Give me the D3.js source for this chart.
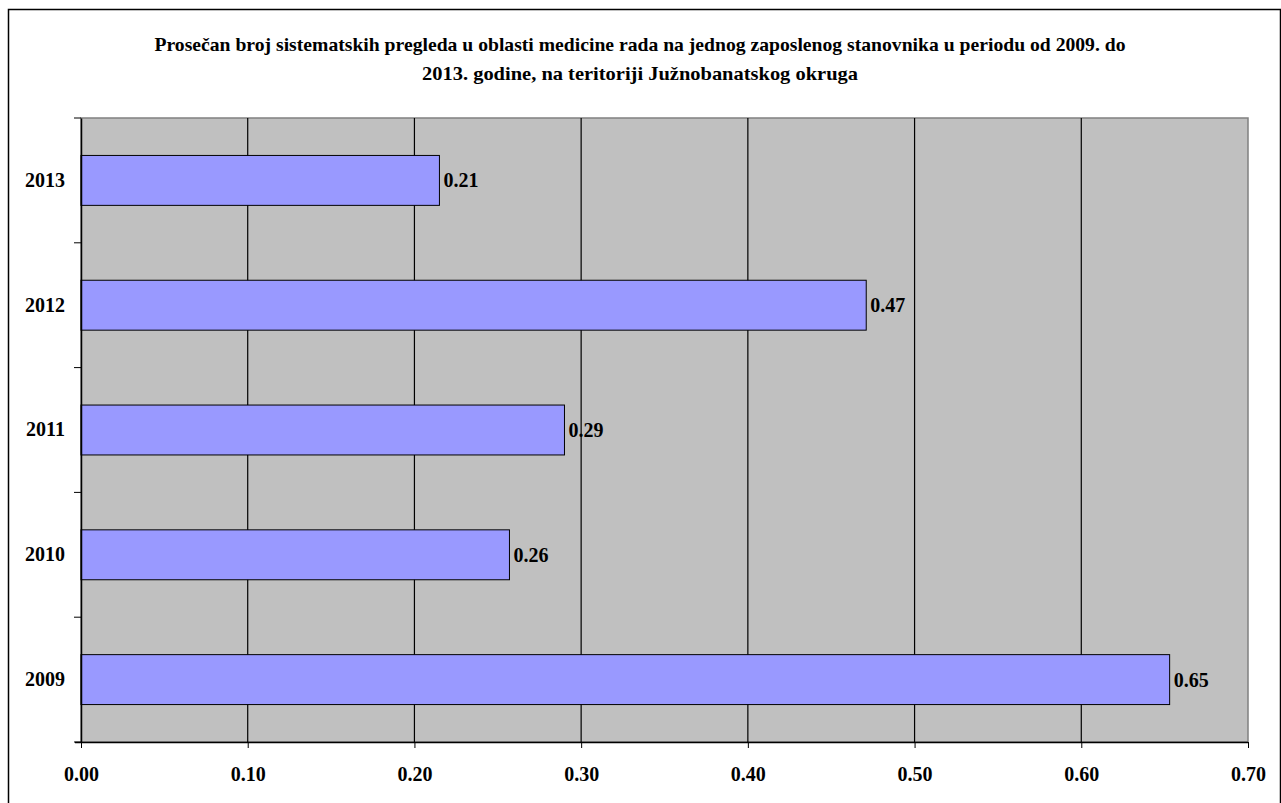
<!DOCTYPE html>
<html><head><meta charset="utf-8">
<script src="https://cdn.jsdelivr.net/npm/d3@7"></script>
<style>body{margin:0;background:#fff}</style>
</head><body>
<script>
const years = ["2009","2010","2011","2012","2013"];
const values = [0.653, 0.257, 0.290, 0.471, 0.215];
const xTicks = [0,0.1,0.2,0.3,0.4,0.5,0.6,0.7];
const titleLines = ["Prosečan broj sistematskih pregleda u oblasti medicine rada na jednog zaposlenog stanovnika u periodu od 2009. do","2013. godine, na teritoriji Južnobanatskog okruga"];

const W=1281,H=803;
const svg=d3.select("body").append("svg").attr("width",W).attr("height",H);
const font="'Liberation Serif','Times New Roman',serif";
svg.append("rect").attr("x",8.5).attr("y",9.5).attr("width",1272).attr("height",800).attr("fill","#fff").attr("stroke","#000").attr("stroke-width",1.5);

const L=81,R=1248,T=118,B=742;
const x=d3.scaleLinear().domain([0,0.7]).range([L,R]);
const y=d3.scaleBand().domain(years.slice().reverse()).range([T,B]).paddingInner(0.6).paddingOuter(0.3);
const yb=d3.scaleBand().domain(years.slice().reverse()).range([T,B]);

svg.append("rect").attr("x",L).attr("y",T).attr("width",R-L).attr("height",B-T).attr("fill","#c0c0c0").attr("stroke","#808080").attr("stroke-width",1.5);
svg.append("g").selectAll("line").data(xTicks.slice(1,-1)).join("line")
 .attr("x1",d=>x(d)).attr("x2",d=>x(d)).attr("y1",T).attr("y2",B).attr("stroke","#000").attr("stroke-width",1.2);

svg.append("g").selectAll("rect").data(years).join("rect")
 .attr("x",L).attr("y",d=>y(d)).attr("height",y.bandwidth())
 .attr("width",(d,i)=>x(values[i])-L).attr("fill","#9999ff").attr("stroke","#000").attr("stroke-width",1);

svg.append("g").selectAll("text").data(years).join("text")
 .attr("x",(d,i)=>x(values[i])+4).attr("y",d=>y(d)+y.bandwidth()/2).attr("dy","0.35em")
 .attr("font-family",font).attr("font-weight","bold").attr("font-size",20)
 .text((d,i)=>values[i].toFixed(2));

// axes
const xa=svg.append("g").attr("transform",`translate(0,${B})`)
 .call(d3.axisBottom(x).tickValues(xTicks).tickFormat(d3.format(".2f")).tickSize(6).tickPadding(19));
xa.select(".domain").attr("stroke","#000").attr("stroke-width",1.5).attr("d",`M${L-6},0.5H${R}`);
xa.selectAll("text").attr("font-family",font).attr("font-weight","bold").attr("font-size",20);
xa.selectAll(".tick line").attr("stroke","#000");

const ya=svg.append("g").attr("transform",`translate(${L},0)`)
 .call(d3.axisLeft(yb).tickSize(0).tickPadding(16));
ya.select(".domain").attr("stroke","#000").attr("stroke-width",1.5);
ya.selectAll("text").attr("font-family",font).attr("font-weight","bold").attr("font-size",20);
svg.append("g").selectAll("line").data(d3.range(years.length+1)).join("line")
 .attr("x1",L-7).attr("x2",L).attr("y1",i=>T+i*yb.step()).attr("y2",i=>T+i*yb.step()).attr("stroke","#000");

svg.append("g").selectAll("text").data(titleLines).join("text")
 .attr("x",640).attr("y",(d,i)=>51+i*29).attr("text-anchor","middle")
 .attr("font-family",font).attr("font-weight","bold").attr("font-size",19)
 .attr("textLength",(d,i)=>i===0?971:436).attr("lengthAdjust","spacingAndGlyphs")
 .text(d=>d);
</script>
</body></html>
